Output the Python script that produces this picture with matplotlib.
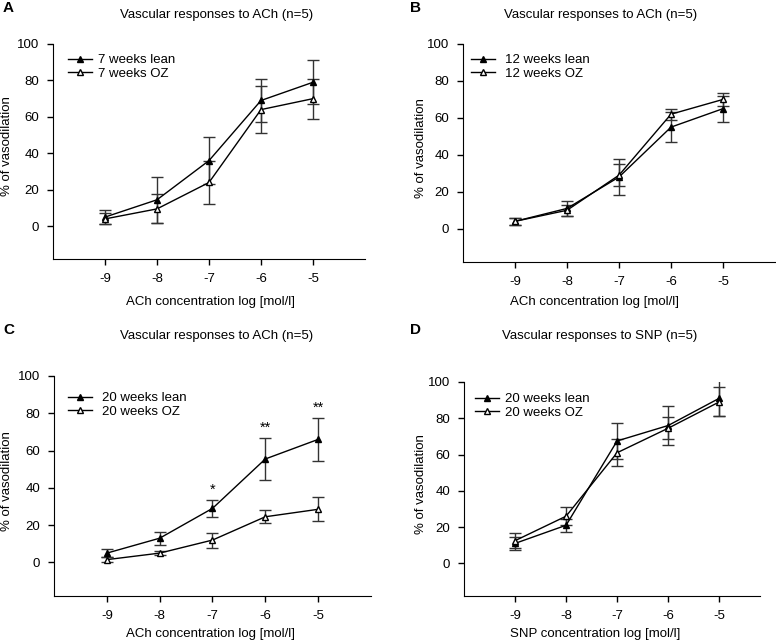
import numpy as np
import matplotlib.pyplot as plt

plt.rcParams['font.family'] = ['Liberation Sans', 'DejaVu Sans']
plt.rcParams['axes.unicode_minus'] = False

# Concentrations (log mol/l)
conc = [-9, -8, -7, -6, -5]

# Panel A: 7 weeks
a_lean = [5, 14.5, 36, 69, 79]
a_lean_err = [4, 12.5, 13, 12, 12]
a_oz = [4, 9.5, 24, 64, 70]
a_oz_err = [3, 8, 12, 13, 11]

# Panel B: 12 weeks
b_lean = [4, 11, 28, 55, 65]
b_lean_err = [2, 4, 10, 8, 7]
b_oz = [4, 10, 29, 62, 70]
b_oz_err = [2, 3, 6, 3, 3.5]

# Panel C: 20 weeks ACh
c_lean = [5, 13, 29, 55.5, 66]
c_lean_err = [2, 3.5, 4.5, 11.5, 11.5]
c_oz = [1.5, 5, 12, 24.5, 28.5]
c_oz_err = [1.5, 1, 4, 3.5, 6.5]
c_stars = ['', '', '*', '**', '**']

# Panel D: 20 weeks SNP
d_lean = [11, 21, 67.5, 76, 91]
d_lean_err = [3.5, 3.5, 10, 11, 10]
d_oz = [12.5, 26, 61, 74.5, 89]
d_oz_err = [4, 5, 7.5, 6, 8]

W, H = 776, 642
fig = plt.figure(figsize=(W / 100, H / 100), dpi=100)


def px(x, y):
    # pixel position (from top-left) -> figure fraction
    return x / W, 1 - y / H


# axes rectangles in pixels: left, top, right, bottom
rects = {
    'A': (53, 44, 365, 259),
    'B': (463, 44, 775, 262),
    'C': (54, 376, 371, 596),
    'D': (464, 382, 760, 596),
}
# text positions in pixels: title centre, xlabel centre, ylabel x, letter
text_pos = {
    'A': ((217, 15), (210, 302), 7, (3, 8)),
    'B': ((601, 15), (595, 302), 421, (410, 8)),
    'C': ((217, 336), (210, 634), 7, (3, 330)),
    'D': ((600, 336), (595, 634), 421, (410, 330)),
}
# legend: handle left x, first row y, gap handle->text (pixels)
leg_pos = {
    'A': (68, 59, 6),
    'B': (471, 59, 10),
    'C': (68, 397, 10),
    'D': (475, 398, 6),
}

panels = [
    ('A', a_lean, a_lean_err, a_oz, a_oz_err, '7 weeks lean', '7 weeks OZ',
     'Vascular responses to ACh (n=5)', 'ACh concentration log [mol/l]'),
    ('B', b_lean, b_lean_err, b_oz, b_oz_err, '12 weeks lean', '12 weeks OZ',
     'Vascular responses to ACh (n=5)', 'ACh concentration log [mol/l]'),
    ('C', c_lean, c_lean_err, c_oz, c_oz_err, '20 weeks lean', '20 weeks OZ',
     'Vascular responses to ACh (n=5)', 'ACh concentration log [mol/l]'),
    ('D', d_lean, d_lean_err, d_oz, d_oz_err, '20 weeks lean', '20 weeks OZ',
     'Vascular responses to SNP (n=5)', 'SNP concentration log [mol/l]'),
]

fs = 9.5
axes = {}
for key, lean, lean_err, oz, oz_err, lab1, lab2, title, xlab in panels:
    l, t, r, b = rects[key]
    ax = fig.add_axes([l / W, 1 - b / H, (r - l) / W, (b - t) / H])
    axes[key] = ax
    ax.errorbar(conc, lean, yerr=lean_err, color='black', ecolor='#333333',
                elinewidth=1, capsize=4, capthick=1, lw=1, marker='^',
                ms=5, mfc='black', mec='black', label=lab1, zorder=3)
    ax.errorbar(conc, oz, yerr=oz_err, color='black', ecolor='#333333',
                elinewidth=1, capsize=4, capthick=1, lw=1, marker='^',
                ms=5, mfc='white', mec='black', label=lab2, zorder=3)
    ax.set_xlim(-10, -4 if key != 'D' else -4.2)
    ax.set_ylim(-18, 100)
    ax.set_xticks(conc)
    ax.set_yticks([0, 20, 40, 60, 80, 100])
    ax.spines['top'].set_visible(False)
    ax.spines['right'].set_visible(False)
    ax.tick_params(direction='out', length=4, width=1, labelsize=fs, pad=6)

    hx, hy, gap = leg_pos[key]
    handles, labels = ax.get_legend_handles_labels()
    handles = [h[0] for h in handles]
    fig.legend(handles, labels, loc='upper left', frameon=False, fontsize=fs,
               handlelength=1.8, handletextpad=gap * 0.72 / fs,
               borderpad=0, borderaxespad=0, labelspacing=0.1,
               bbox_to_anchor=px(hx, hy - 5))

    (tx, ty), (xx, xy), yx, (lx, ly) = text_pos[key]
    fig.text(*px(tx, ty), title, ha='center', va='center', fontsize=fs)
    fig.text(*px(xx, xy), xlab, ha='center', va='center', fontsize=fs)
    fig.text(*px(yx, (t + b) / 2 - 5), '% of vasodilation', ha='center',
             va='center', rotation=90, fontsize=fs)
    fig.text(*px(lx, ly), key, ha='left', va='center', fontsize=11,
             fontweight='bold')

# significance marks on panel C
for x, m, e, s in zip(conc, c_lean, c_lean_err, c_stars):
    if s:
        axes['C'].text(x, m + e + 1.5, s, ha='center', va='bottom', fontsize=fs + 1)

fig.savefig('out.png', dpi=100)
